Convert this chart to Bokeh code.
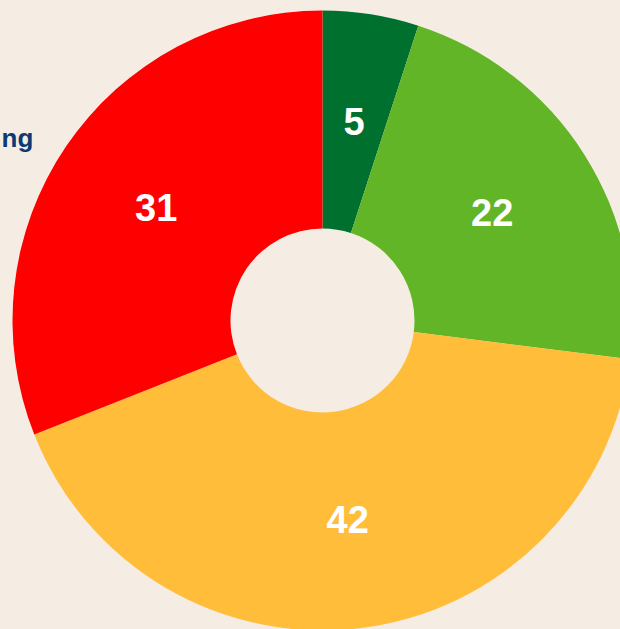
import numpy as np
from bokeh.plotting import figure
from bokeh.models import ColumnDataSource
from bokeh.core.properties import value
from bokeh.embed import file_html
from bokeh.resources import INLINE

categories = ["a", "b", "c", "d"]
values = [5, 22, 42, 31]
labels = ["5", "22", "42", "31"]
colors = ["#00702E", "#62B526", "#FFBD3A", "#FF0000"]
side_text = ["ng"]

BG = "#F5EDE3"
W, H = 620, 629
cx, cy = 322, 309
r_in, r_out = 92, 310

vals = np.array(values, dtype=float)
frac = vals / vals.sum()
cum = np.concatenate([[0], np.cumsum(frac)])
start = np.pi / 2 - cum[:-1] * 2 * np.pi
end = np.pi / 2 - cum[1:] * 2 * np.pi
mid = (start + end) / 2
r_lab = (r_in + r_out) / 2

src = ColumnDataSource(dict(
    cat=categories, start=start, end=end, color=colors,
    lx=cx + r_lab * np.cos(mid), ly=cy + r_lab * np.sin(mid), label=labels,
    x=[cx] * len(values), y=[cy] * len(values),
))

p = figure(width=W, height=H, x_range=(0, W), y_range=(0, H),
           output_backend="svg", toolbar_location=None,
           min_border=0, outline_line_color=None,
           background_fill_color=BG, border_fill_color=BG)
p.axis.visible = False
p.grid.visible = False

p.annular_wedge(x="x", y="y", inner_radius=r_in, outer_radius=r_out,
                start_angle="start", end_angle="end", direction="clock",
                fill_color="color", line_color=None, source=src)

p.text(x="lx", y="ly", text="label", source=src, text_color="white",
       text_font=value("Liberation Sans"), text_font_style="bold",
       text_font_size="38px", text_align="center", text_baseline="middle")

p.text(x=[1], y=[H - 137], text=side_text, text_color="#0D3A73",
       text_font=value("Liberation Sans"), text_font_style="bold",
       text_font_size="26px", text_align="left", text_baseline="alphabetic")

html = file_html(p, INLINE)
html = html.replace("<head>", "<head><style>html,body{margin:0;padding:0;overflow:hidden;background:%s;}</style>" % BG, 1)
open("out.html", "w").write(html)
